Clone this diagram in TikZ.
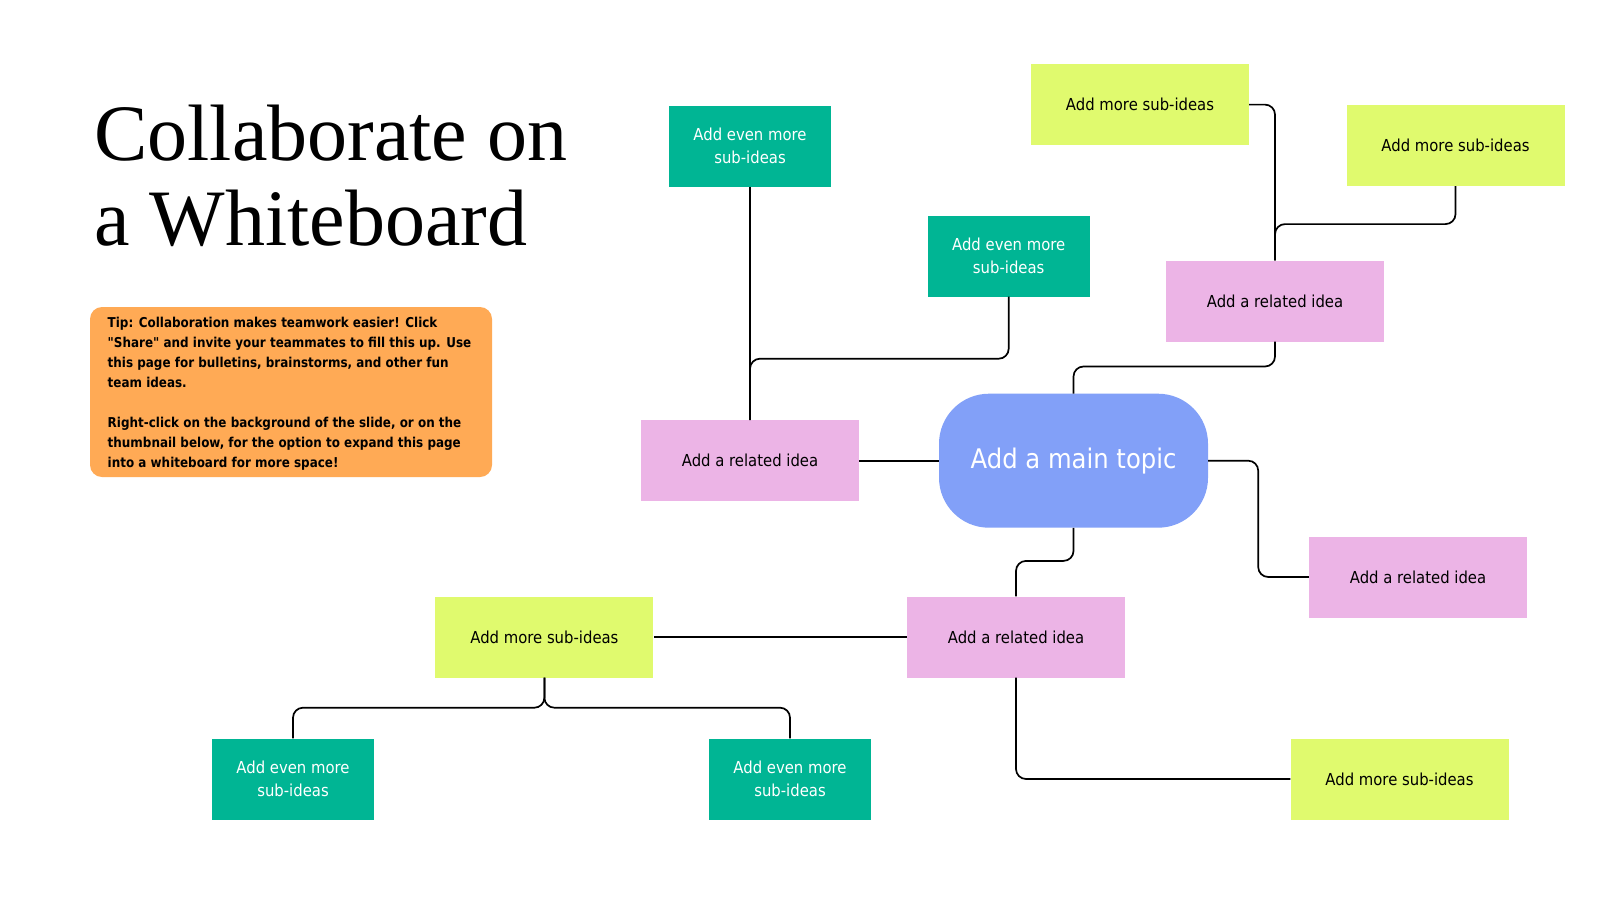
\documentclass[tikz,border=0pt]{standalone}
\usepackage{fontspec}
\setsansfont{DejaVu Sans}[FakeStretch=0.9]
\newfontfamily\tipfont{DejaVu Sans}[FakeStretch=0.88]
\newfontfamily\titlefont{Liberation Serif}
\definecolor{tealbox}{HTML}{00B594}
\definecolor{limebox}{HTML}{E0FA6E}
\definecolor{pinkbox}{HTML}{ECB4E6}
\definecolor{topicblue}{HTML}{82A0F8}
\definecolor{tiporange}{HTML}{FFAA55}
\begin{document}
\begin{tikzpicture}[x=1pt,y=-1pt,
 box/.style={rectangle,inner sep=0pt,minimum width=218pt,minimum height=81pt,font=\sffamily\fontsize{16.5}{22.5}\selectfont},
 related/.style={box,fill=pinkbox},
 moreidea/.style={box,fill=limebox},
 evenmore/.style={box,fill=tealbox,text=white,minimum width=162pt,align=center},
 topic/.style={rectangle,rounded corners=50pt,fill=topicblue,text=white,minimum width=269pt,minimum height=134pt,font=\sffamily\fontsize{27}{32}\selectfont},
 link/.style={draw,line width=1.7pt,rounded corners=10pt}]
\useasboundingbox[fill=white] (0,0) rectangle (1600,900);
\node[anchor=base west,inner sep=0pt,font=\titlefont\fontsize{80}{85}\selectfont] (title1) at (94,160) {Collaborate on};
\node[anchor=base west,inner sep=0pt,font=\titlefont\fontsize{80}{85}\selectfont] (title2) at (94,245) {a Whiteboard};
\node[fill=tiporange,rounded corners=12pt,minimum width=402pt,minimum height=170pt] (tip) at (291,392) {};
\node[anchor=north west,inner sep=0pt,align=left,font=\tipfont\bfseries\fontsize{13.6}{20}\selectfont] (tiptext) at (107.5,317)
 {Tip: Collaboration makes teamwork easier! Click\\\symbol{34}Share\symbol{34} and invite your teammates to fill this up. Use\\this page for bulletins, brainstorms, and other fun\\team ideas.\\[20pt]Right-click on the background of the slide, or on the\\thumbnail below, for the option to expand this page\\into a whiteboard for more space!};
\node[topic] (main) at (1073.5,460.7) {Add a main topic};
\foreach \n/\x/\y in {r1/1275/301, r2/750/460.7, r3/1418/577, r4/1016/637}
 \node[related] (\n) at (\x,\y) {Add a related idea};
\foreach \n/\x/\y in {s1/1140/104.6, s2/1455.5/145.4, s3/544.4/637, s4/1399.5/779}
 \node[moreidea] (\n) at (\x,\y) {Add more sub-ideas};
\foreach \n/\x/\y in {e1/750/146, e2/1008.7/256, e3/293/779, e4/790/779}
 \node[evenmore] (\n) at (\x,\y) {Add even more\\sub-ideas};
% connectors
\draw[link] (r2.east) -- (main.west);
\draw[link] (e1.south) -- (r2.north);
\draw[link] (e2.south) -- ++(0,62) -| (r2.north);
\draw[link] (main.north) -- ++(0,-27) -| (r1.south);
\draw[link] (r1.north) |- (s1.east);
\draw[link] (s2.south) -- ++(0,38) -| (r1.north);
\draw[link] (main.east) -- ++(50,0) |- (r3.west);
\draw[link] (main.south) -- ++(0,33) -| (r4.north);
\draw[link] (r4.west) -- (s3.east);
\draw[link] (r4.south) |- (s4.west);
\foreach \e in {e3,e4} \draw[link] (s3.south) -- ++(0,30) -| (\e.north);
\end{tikzpicture}
\end{document}
